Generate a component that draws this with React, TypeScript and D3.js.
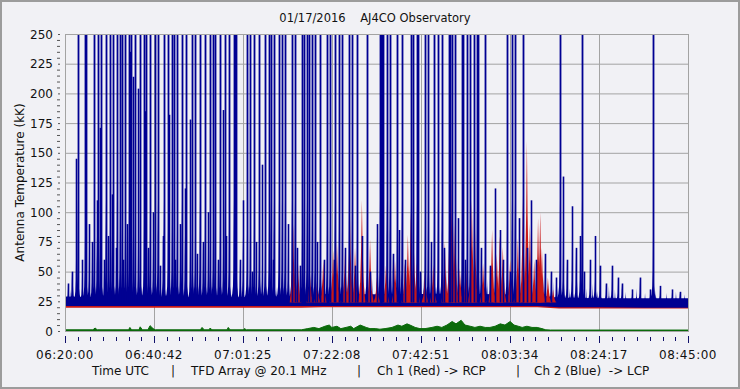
import React from "react";
import * as d3 from "d3";

const W = 740;
const H = 389;
const TITLE = "01/17/2016    AJ4CO Observatory";
const Y_LABEL = "Antenna Temperature (kK)";
const X_DOMAIN_MIN = 145; // minutes from 06:20:00 to 08:45:00
const xTickLabels = ["06:20:00", "06:40:42", "07:01:25", "07:22:08", "07:42:51", "08:03:34", "08:24:17", "08:45:00"];
const yTickValues = [0, 25, 50, 75, 100, 125, 150, 175, 200, 225, 250];
const bottomParts = ["Time UTC", "|", "TFD Array @ 20.1 MHz", "|", "Ch 1 (Red) -> RCP", "|", "Ch 2 (Blue)  -> LCP"];

// Ch 2 (blue, LCP): spikes that go off scale (minutes since 06:20:00)
const blueFullSpikes: number[] = [
  3.0, 4.7, 4.9, 6.8, 7.7, 8.4, 9.5, 10.5, 11.2, 12.1, 12.8, 13.3, 14.0, 14.9, 15.4, 16.3, 17.5, 18.4, 18.9,
  19.8, 21.0, 21.6, 23.0, 24.0, 24.9, 25.4, 26.1, 27.2, 28.2, 29.6, 30.3, 31.4, 32.6, 33.8, 34.5, 34.9, 36.1,
  37.2, 38.2, 39.3, 39.6, 39.8, 42.4, 43.1, 44.0, 45.2, 46.6, 47.5, 47.9, 48.6, 49.8, 50.5, 51.2, 52.8, 53.5,
  55.2, 55.6, 56.3, 56.8, 57.5, 58.2, 59.4, 61.0, 61.7, 62.8, 63.8, 64.5, 66.1, 66.8, 68.0, 70.3, 73.3, 73.6,
  73.8, 74.0, 74.9, 75.6, 77.3, 78.4, 80.5, 81.0, 81.9, 82.2, 83.8, 84.5, 85.9, 86.8, 87.7, 89.4, 89.6, 90.1,
  90.8, 92.4, 92.6, 93.6, 94.3, 95.2, 95.9, 96.1, 97.8, 102.9, 104.0, 104.7, 106.6, 115.2, 120.3, 136.9,
];

// Ch 2 (blue): on-scale spikes [minutes, kK]
const blueSpikes: [number, number][] = [
  [0.7, 40], [1.6, 50], [2.6, 145], [4.0, 60], [5.6, 90], [6.3, 75], [7.4, 110], [8.1, 171], [9.1, 60],
  [10.0, 80], [10.9, 115], [11.9, 70], [13.5, 60], [14.4, 90], [15.1, 235], [15.8, 214], [17.0, 204],
  [18.6, 185], [19.3, 70], [20.5, 100], [22.1, 55], [22.8, 80], [24.2, 182], [25.6, 60], [26.8, 90],
  [27.9, 120], [29.1, 178], [30.7, 65], [32.1, 75], [33.3, 100], [35.6, 60], [36.8, 186], [37.5, 80],
  [40.7, 60], [41.4, 110], [43.5, 50], [44.5, 75], [45.9, 140], [48.4, 60], [51.9, 90], [54.0, 70],
  [54.7, 55], [58.7, 75], [60.3, 60], [62.6, 60], [65.2, 70], [67.5, 55], [69.1, 80], [71.0, 50],
  [72.6, 90], [76.3, 65], [77.7, 85], [79.1, 60], [82.6, 50], [85.2, 75], [88.2, 70], [91.5, 95],
  [93.1, 60], [96.8, 70], [98.9, 55], [100.1, 120], [101.2, 85], [101.9, 60], [103.6, 50], [105.7, 95],
  [107.5, 70], [108.5, 110], [109.6, 60], [111.7, 65], [113.1, 50], [114.3, 45], [115.9, 130], [116.8, 60],
  [118.0, 105], [118.9, 70], [119.9, 80], [120.8, 50], [122.2, 60], [123.4, 80], [124.5, 55], [125.9, 40],
  [127.3, 55], [128.7, 45], [129.6, 40], [132.0, 35], [133.8, 45], [136.2, 35], [138.5, 38], [141.3, 35],
  [143.1, 33],
];

// Ch 2 (blue): small spikes riding on the noise band [minutes, kK]
const blueSmallSpikes: [number, number][] = [
  [1.2, 35], [2.0, 38], [4.2, 33], [5.0, 40], [8.8, 36], [9.8, 42], [11.5, 38], [12.5, 45], [13.2, 40],
  [14.2, 36], [16.5, 42], [17.8, 38], [19.0, 45], [21.2, 40], [22.5, 36], [24.5, 44], [25.9, 38], [27.0, 41],
  [28.5, 36], [29.9, 48], [31.0, 40], [32.8, 37], [34.0, 45], [35.2, 38], [36.3, 42], [38.6, 36], [40.1, 44],
  [41.0, 38], [42.8, 40], [44.0, 36], [45.5, 46], [46.9, 38], [48.0, 42], [49.2, 37], [50.9, 44], [52.3, 40],
  [53.2, 36], [54.3, 48], [55.9, 42], [57.1, 46], [58.0, 50], [59.7, 44], [61.0, 52], [62.1, 48], [63.5, 55],
  [64.8, 46], [65.8, 50], [66.9, 44], [68.3, 52], [69.5, 46], [70.5, 55], [71.5, 44], [72.9, 48], [73.6, 52],
  [75.2, 46], [76.0, 50], [77.0, 44], [78.0, 52], [79.5, 48], [80.8, 55], [81.6, 46], [82.9, 52], [83.5, 44],
  [84.9, 50], [86.1, 46], [87.0, 55], [88.0, 48], [88.8, 52], [89.9, 46], [90.5, 58], [91.2, 50], [92.0, 46],
  [93.8, 52], [94.5, 48], [95.6, 54], [96.4, 46], [97.4, 50], [98.4, 44], [99.6, 52], [100.6, 48], [101.6, 55],
  [102.2, 46], [103.2, 50], [104.3, 44], [105.0, 52], [106.0, 48], [106.9, 55], [108.0, 46], [108.9, 50],
  [110.3, 44], [111.3, 48], [112.6, 40], [113.6, 42], [114.7, 38], [116.3, 40], [117.4, 36], [119.2, 42],
  [121.3, 36], [122.8, 40], [124.0, 34], [126.6, 38], [128.0, 35], [130.5, 33], [133.0, 36], [135.0, 32],
  [137.5, 34], [140.0, 32], [142.2, 33], [144.2, 31],
];

// Ch 2 (blue): quiet-sky noise band [minutes, low kK, high kK]
const blueBand: [number, number, number][] = [
  [0, 21, 29], [10, 21, 28.5], [20, 21, 28.5], [30, 21, 28.5], [40, 21, 28.5], [50, 21, 29], [55, 21, 29.5],
  [60, 21, 31], [70, 21, 31], [80, 21, 31], [90, 21, 31.5], [100, 21, 31], [110, 21, 30], [115, 20, 28],
  [125, 20, 27.5], [135, 19.5, 27.5], [145, 19.5, 27.5],
];

// Ch 1 (red, RCP): noise band [minutes, low kK, high kK]
const redBand: [number, number, number][] = [
  [0, 19.5, 22.5], [50, 19.5, 22.5], [55, 19.5, 23], [60, 20, 25], [80, 20, 25], [100, 20, 25],
  [110, 20, 24], [115, 19, 22], [145, 19, 22],
];

// Ch 1 (red): spikes [minutes, kK]
const redSpikes: [number, number][] = [
  [53.1, 90], [54.2, 60], [57.0, 50], [58.7, 45], [60.1, 60], [62.4, 68], [63.3, 75], [65.2, 71],
  [66.3, 105], [67.5, 70], [69.1, 110], [71.0, 77], [72.6, 45], [74.7, 55], [76.8, 60], [79.1, 57],
  [79.8, 81], [80.5, 100], [81.2, 70], [81.9, 57], [83.8, 50], [85.7, 56], [88.4, 75], [89.6, 120],
  [90.1, 165], [90.8, 100], [91.9, 53], [93.3, 60], [94.7, 110], [95.4, 91], [97.3, 57], [99.4, 85],
  [100.5, 65], [101.2, 80], [101.9, 71], [103.6, 60], [105.4, 78], [106.6, 115], [107.5, 160],
  [108.2, 90], [109.2, 60], [110.1, 95], [110.6, 100], [111.0, 70], [112.4, 45], [113.6, 35],
];

// Third trace (green): low level [minutes, kK]
const greenLevels: [number, number][] = [
  [0, 1], [6.5, 1], [7.0, 2.5], [7.5, 1], [14.8, 1], [15.1, 3], [15.5, 1], [17.2, 1], [17.5, 3.5], [18, 1],
  [19.3, 1], [19.8, 4.5], [20.5, 2], [21, 1], [31.5, 1], [31.9, 3], [32.4, 1], [33.5, 1], [33.8, 2.5],
  [34.2, 1], [37.7, 1], [38, 3], [38.4, 1], [41.5, 1], [41.8, 2], [42.2, 1], [55, 1], [56.5, 2], [57.9, 3],
  [59.1, 2], [60.5, 4], [61.5, 5], [62.1, 3], [63.3, 4], [64.2, 2], [65.4, 3], [66.5, 4], [67.2, 2],
  [68.7, 5], [70.1, 3], [71, 2], [72.2, 2], [73.3, 1.5], [74.5, 2], [76.1, 3], [77.5, 5], [78.4, 4],
  [79.6, 6], [80.3, 5], [81.5, 3], [82.6, 2], [83.8, 2], [85.4, 3], [86.6, 4], [87.7, 3], [88.9, 5],
  [90.1, 8], [91, 6], [92.2, 9], [93.1, 5], [94.3, 4], [95.4, 3], [96.6, 4], [97.8, 3], [98.9, 3],
  [100.1, 4], [101.3, 6], [102.4, 5], [103.6, 8], [104.5, 5], [105.5, 4], [106.4, 3], [107.5, 4],
  [108.7, 3], [109.9, 3], [111, 2], [111.9, 1], [113, 0.8], [145, 0.8],
];

const BLUE = "#000092";
const RED = "#c81818";
const GREEN = "#0b6a0b";
const GRID = "#a3a3a3";
const BG = "#f1f1f5";
const FONT = "'DejaVu Sans', Verdana, sans-serif";

// burst profile: horizontal offsets (fraction of half-width) and height fractions
const PROFILE_DX = [-1, -0.55, -0.3, -0.15, -0.05, 0, 0.05, 0.15, 0.3, 0.55, 1];
const PROFILE_H = [0, 0.06, 0.14, 0.3, 0.7, 1, 0.7, 0.3, 0.14, 0.06, 0];
const RED_PROFILE_DX = [-1, -0.5, -0.2, 0, 0.2, 0.5, 1];
const RED_PROFILE_H = [0, 0.2, 0.55, 1, 0.55, 0.2, 0];

export default function App() {
  const left = 65, right = 688, top = 34, bottom = 331;
  const x = d3.scaleLinear().domain([0, X_DOMAIN_MIN]).range([left, right]);
  const y = d3.scaleLinear().domain([0, 250]).range([bottom, top]);

  const majorX = xTickLabels.map((_, i) => (i * X_DOMAIN_MIN) / (xTickLabels.length - 1));
  const minorX: number[] = [];
  for (let i = 0; i < majorX.length - 1; i++) {
    for (let k = 1; k < 7; k++) minorX.push(majorX[i] + ((majorX[i + 1] - majorX[i]) * k) / 7);
  }
  const minorY: number[] = [];
  for (let i = 0; i < yTickValues.length - 1; i++) {
    for (let k = 1; k < 5; k++) minorY.push(yTickValues[i] + (25 * k) / 5);
  }

  const band = d3
    .area<[number, number, number]>()
    .x((d) => x(d[0]))
    .y0((d) => y(d[1]))
    .y1((d) => y(d[2]));
  const greenArea = d3
    .area<[number, number]>()
    .x((d) => x(d[0]))
    .y0(y(0))
    .y1((d) => y(d[1]));
  const greenLine = d3
    .line<[number, number]>()
    .x((d) => x(d[0]))
    .y((d) => y(d[1]));
  const pathLine = d3.line<[number, number]>();

  const burst = (t: number, v: number, base: number, halfW: number, dxs = PROFILE_DX, hs = PROFILE_H) => {
    const cx = x(t);
    const pts: [number, number][] = dxs.map((dx, i) => [cx + dx * halfW, y(base + (v - base) * hs[i])]);
    return pathLine(pts) || "";
  };

  const bottomX = [92, 171, 191, 357, 377, 516, 534];

  const px = (t: number) => Math.round(x(t)) + 0.5;

  return (
    <svg
      width={W}
      height={H}
      style={{ position: "absolute", left: 0, top: 0, display: "block" }}
      fontFamily={FONT}
    >
      <defs>
        <clipPath id="plotClip">
          <rect x={left} y={top} width={right - left} height={bottom - top} />
        </clipPath>
      </defs>
      <rect x={0} y={0} width={W} height={H} fill={BG} />
      <rect x={1} y={1} width={W - 2} height={H - 2} fill="none" stroke="#9c9c9c" strokeWidth={2} />

      {/* grid */}
      {yTickValues.map((v) => (
        <line key={"gy" + v} x1={left} x2={right} y1={y(v) + 0.5} y2={y(v) + 0.5} stroke={GRID} strokeWidth={1} />
      ))}
      {majorX.map((t, i) => (
        <line key={"gx" + i} x1={px(t)} x2={px(t)} y1={top} y2={bottom} stroke={GRID} strokeWidth={1} />
      ))}

      <g clipPath="url(#plotClip)">
        <path d={greenArea(greenLevels) || ""} fill={GREEN} />
        <path d={greenLine(greenLevels) || ""} fill="none" stroke={GREEN} strokeWidth={1} />

        <path d={band(redBand) || ""} fill={RED} />
        <path d={band(blueBand) || ""} fill={BLUE} />
        {blueSmallSpikes.map(([t, v], i) => (
          <path key={"bss" + i} d={burst(t, v, 26, 2)} fill={BLUE} />
        ))}
        {blueSpikes.map(([t, v], i) => (
          <path key={"bsb" + i} d={burst(t, Math.min(v, 80), 26, 2.5)} fill={BLUE} />
        ))}
        {blueFullSpikes.map((t, i) => (
          <path key={"bfb" + i} d={burst(t, 110, 26, 3)} fill={BLUE} />
        ))}
        {redSpikes.map(([t, v], i) => (
          <path key={"rs" + i} d={burst(t, v, 24, 3.5, RED_PROFILE_DX, RED_PROFILE_H)} fill={RED} />
        ))}
        {blueSpikes.map(([t, v], i) => (
          <line key={"bs" + i} x1={px(t)} x2={px(t)} y1={y(24)} y2={y(v)} stroke={BLUE} strokeWidth={1.6} />
        ))}
        {blueFullSpikes.map((t, i) => (
          <line key={"bf" + i} x1={px(t)} x2={px(t)} y1={y(24)} y2={y(270)} stroke={BLUE} strokeWidth={1.8} />
        ))}
      </g>

      {/* frame */}
      <rect x={left + 0.5} y={top + 0.5} width={right - left} height={bottom - top} fill="none" stroke={GRID} strokeWidth={1} />

      {/* y ticks */}
      {minorY.map((v, i) => (
        <line key={"my" + i} x1={57} x2={60} y1={y(v) + 0.5} y2={y(v) + 0.5} stroke="#555" strokeWidth={1} />
      ))}
      {yTickValues.map((v) => (
        <line key={"ty" + v} x1={58} x2={60} y1={y(v) + 0.5} y2={y(v) + 0.5} stroke="#555" strokeWidth={1} />
      ))}
      {yTickValues.map((v) => (
        <text key={"ly" + v} x={53} y={y(v) + 4.5} textAnchor="end" fontSize={12} fill="#111">
          {v}
        </text>
      ))}

      {/* x ticks */}
      {majorX.map((t, i) => (
        <line key={"tx" + i} x1={px(t)} x2={px(t)} y1={336} y2={343} stroke="#10106a" strokeWidth={1} />
      ))}
      {minorX.map((t, i) => (
        <line key={"mx" + i} x1={px(t)} x2={px(t)} y1={337} y2={341} stroke="#10106a" strokeWidth={1} />
      ))}
      {majorX.map((t, i) => (
        <text key={"lx" + i} x={x(t)} y={359} textAnchor="middle" fontSize={12} letterSpacing={0.5} fill="#111">
          {xTickLabels[i]}
        </text>
      ))}

      {/* titles */}
      <text x={375} y={22} textAnchor="middle" fontSize={11.5} fill="#111" style={{ whiteSpace: "pre" }}>
        {TITLE}
      </text>
      <text
        transform={`translate(24, ${(top + bottom) / 2}) rotate(-90)`}
        textAnchor="middle"
        fontSize={12}
        fill="#111"
      >
        {Y_LABEL}
      </text>
      {bottomParts.map((s, i) => (
        <text key={"bp" + i} x={bottomX[i]} y={375} fontSize={12} fill="#111" style={{ whiteSpace: "pre" }}>
          {s}
        </text>
      ))}
    </svg>
  );
}
